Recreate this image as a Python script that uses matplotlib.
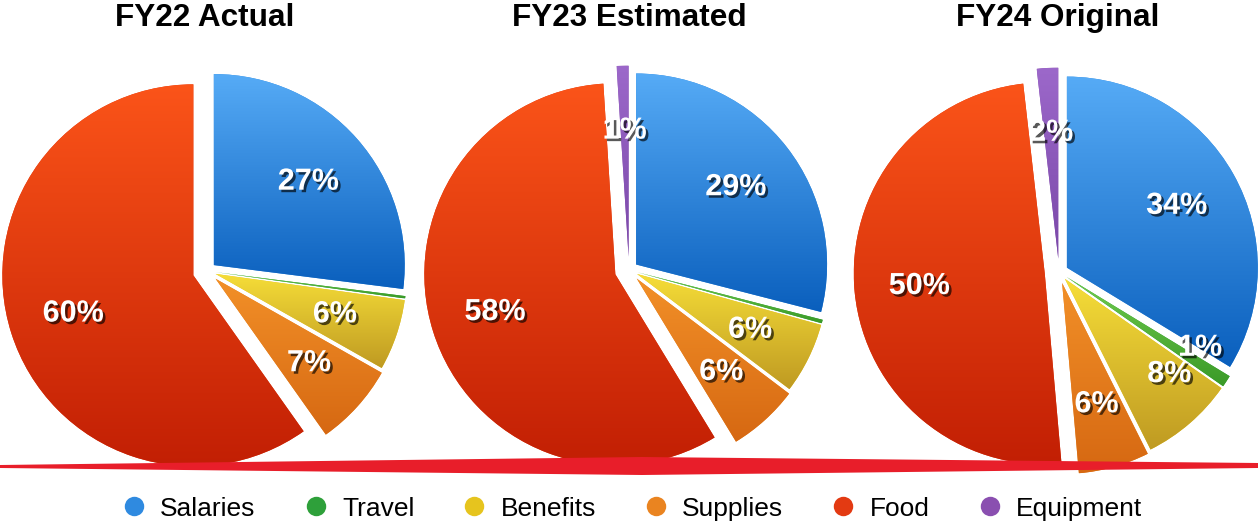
import matplotlib
matplotlib.use("Agg")
import matplotlib.pyplot as plt
import matplotlib.patheffects as pe
from matplotlib.lines import Line2D
from matplotlib.colors import LinearSegmentedColormap
import numpy as np

plt.rcParams['font.family'] = ['Liberation Sans', 'DejaVu Sans']

categories = ["Salaries", "Travel", "Benefits", "Supplies", "Food", "Equipment"]
titles = ["FY22 Actual", "FY23 Estimated", "FY24 Original"]
fy22 = [27.0, 0.2, 6.0, 7.0, 59.8, 0.0]
fy23 = [29.0, 0.3, 6.0, 6.0, 57.7, 1.0]
fy24 = [33.7, 1.0, 7.9, 6.0, 49.6, 1.8]
years = [fy22, fy23, fy24]

# gradient colours per category (top, bottom) and legend dot colours
top_cols = ["#56abf6", "#72cc4e", "#f6de38", "#f29028", "#fb5419", "#9c68ca"]
bot_cols = ["#0a5fbd", "#3a9a28", "#bf9a22", "#d66812", "#c21f04", "#7a48a8"]
dot_cols = ["#2f8ae0", "#2ea03a", "#e6c41e", "#ea8420", "#e33a12", "#8a4fb0"]
explode = [0.047, 0.047, 0.047, 0.06, 0.075, 0.07]

W, H = 1258, 521
centers = [(207, 250), (629, 251), (1059, 249)]
title_x = [205, 629, 1058]
R = 191
# nudge the crowded FY24 travel / benefits labels sideways (pixels)
label_shift = {2: {1: (28, -2), 2: (22, 0)}}

fig = plt.figure(figsize=(W / 100, H / 100), dpi=100)
ax = fig.add_axes([0, 0, 1, 1])

shadow = [pe.withSimplePatchShadow(offset=(1.8, -1.8), shadow_rgbFace="black", alpha=0.65)]


def fmt(p):
    return f"{p:.0f}%" if p >= 0.5 else ""


for i, vals in enumerate(years):
    wedges, _, autotexts = ax.pie(
        vals, explode=[e * R for e in explode], colors=dot_cols, startangle=90,
        counterclock=False, radius=R, center=centers[i], autopct=fmt, pctdistance=0.66,
        wedgeprops=dict(linewidth=0), frame=True,
        textprops=dict(color="white", fontsize=22, fontweight="bold"))
    for j, w in enumerate(wedges):
        ext = w.get_path().get_extents()
        if ext.width <= 0 or ext.height <= 0:
            continue
        cmap = LinearSegmentedColormap.from_list("g", [top_cols[j], bot_cols[j]])
        im = ax.imshow(np.linspace(0, 1, 256).reshape(-1, 1), cmap=cmap, origin="upper",
                       extent=[ext.x0, ext.x1, ext.y0, ext.y1], aspect="auto", zorder=1.5)
        im.set_clip_path(w)
    for j, t in enumerate(autotexts):
        t.set_path_effects(shadow)
        t.set_zorder(5)
        if j in label_shift.get(i, {}):
            x, y = t.get_position()
            dx, dy = label_shift[i][j]
            t.set_position((x + dx, y + dy))
    ax.text(title_x[i], H - 18, titles[i], ha="center", va="center",
            fontsize=22.7, fontweight="bold", color="black")

# red swoosh across the bottom
sx = [0, 642, 1258, 1258, 642, 0]
sy = [465, 457, 463, 468, 475, 468]
ax.fill(sx, [H - y for y in sy], color="#e81e2a", lw=0, zorder=4)

ax.set_xlim(0, W)
ax.set_ylim(0, H)
ax.set_aspect("equal")
ax.axis("off")

handles = [Line2D([], [], marker="o", ls="", markersize=14, markerfacecolor=c,
                  markeredgewidth=0) for c in dot_cols]
fig.legend(handles, categories, loc="lower center", bbox_to_anchor=(0.503, -0.045),
           ncol=6, frameon=False, fontsize=19, handlelength=0.8, handletextpad=0.6,
           columnspacing=1.87)

fig.savefig("out.png", dpi=100)
